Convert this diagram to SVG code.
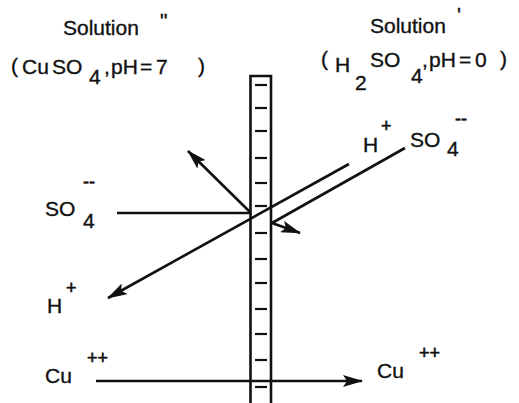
<svg xmlns="http://www.w3.org/2000/svg" width="519" height="403" viewBox="0 0 519 403">
<style>
  text { font-family: "Liberation Sans", Arial, sans-serif; fill: #111; stroke: #111; stroke-width: 0.35; }
  .t { font-size: 21px; }
  .big { font-size: 21px; }
  .sup { font-size: 18px; stroke-width: 0.6; }
  .ln { stroke: #111; stroke-width: 2.6; fill: none; }
  .tick { stroke: #111; stroke-width: 2.2; }
</style>
<defs>
  <marker id="ah" viewBox="0 0 20 12" refX="19" refY="6" markerWidth="20" markerHeight="12" markerUnits="userSpaceOnUse" orient="auto">
    <path d="M0,0 L20,6 L0,12 L4,6 Z" fill="#111"/>
  </marker>
</defs>
<rect width="519" height="403" fill="#fff"/>

<g id="solution2">
  <text class="big" x="63" y="35">Solution</text>
  <text class="big" x="160" y="28">"</text>
  <text class="t" x="11" y="73">(</text>
  <text class="t" x="22" y="74">Cu</text>
  <text class="t" x="52" y="74">SO</text>
  <text class="t" x="89" y="84">4</text>
  <text class="t" x="104" y="74">,</text>
  <text class="t" x="111" y="74">pH</text>
  <text class="t" x="140" y="74">=</text>
  <text class="t" x="156" y="74">7</text>
  <text class="t" x="198" y="73">)</text>
</g>

<g id="solution1">
  <text class="big" x="370" y="33">Solution</text>
  <text class="big" x="457" y="22">'</text>
  <text class="t" x="321" y="66">(</text>
  <text class="t" x="335" y="72">H</text>
  <text class="t" x="355" y="90">2</text>
  <text class="t" x="370" y="67">SO</text>
  <text class="t" x="411" y="83">4</text>
  <text class="t" x="422" y="67">,</text>
  <text class="t" x="429" y="67">pH</text>
  <text class="t" x="459" y="67">=</text>
  <text class="t" x="475" y="67">0</text>
  <text class="t" x="500" y="66">)</text>
</g>

<g id="membrane">
  <path class="ln" d="M250.5,403 L250.5,76 L271,76 L271,403"/>
  <g class="tick">
    <line x1="255" y1="85" x2="267" y2="85"/>
    <line x1="255" y1="108" x2="267" y2="108"/>
    <line x1="255" y1="131" x2="267" y2="131"/>
    <line x1="255" y1="158" x2="267" y2="158"/>
    <line x1="255" y1="183" x2="267" y2="183"/>
    <line x1="255" y1="206" x2="267" y2="206"/>
    <line x1="255" y1="233" x2="267" y2="233"/>
    <line x1="255" y1="259" x2="267" y2="259"/>
    <line x1="255" y1="283" x2="267" y2="283"/>
    <line x1="255" y1="309" x2="267" y2="309"/>
    <line x1="255" y1="334" x2="267" y2="334"/>
    <line x1="255" y1="360" x2="267" y2="360"/>
    <line x1="255" y1="387" x2="267" y2="387"/>
  </g>
</g>

<g id="hso4-right">
  <text class="t" x="363" y="152">H</text>
  <text class="sup" x="381" y="132">+</text>
  <text class="t" x="410" y="147">SO</text>
  <text class="t" x="447" y="156">4</text>
  <text class="sup" x="455" y="125">--</text>
</g>

<g id="so4-left">
  <text class="t" x="45" y="216">SO</text>
  <text class="t" x="83" y="228">4</text>
  <text class="sup" x="83" y="188">--</text>
</g>

<g id="h-left">
  <text class="t" x="47" y="313">H</text>
  <text class="sup" x="66" y="294">+</text>
</g>

<g id="cu-left">
  <text class="t" x="45" y="383">Cu</text>
  <text class="sup" x="87" y="364">++</text>
</g>

<g id="cu-right">
  <text class="t" x="377" y="378">Cu</text>
  <text class="sup" x="419" y="359">++</text>
</g>

<g id="connectors">
  <line class="ln" x1="117" y1="213" x2="251" y2="213"/>
  <line class="ln" x1="251" y1="213" x2="188" y2="151" marker-end="url(#ah)"/>
  <line class="ln" x1="349" y1="164" x2="108" y2="298" marker-end="url(#ah)"/>
  <line class="ln" x1="405" y1="148" x2="272" y2="223"/>
  <line class="ln" x1="272" y1="223" x2="300" y2="233" marker-end="url(#ah)"/>
  <line class="ln" x1="96" y1="381" x2="362" y2="381" marker-end="url(#ah)"/>
</g>
</svg>
